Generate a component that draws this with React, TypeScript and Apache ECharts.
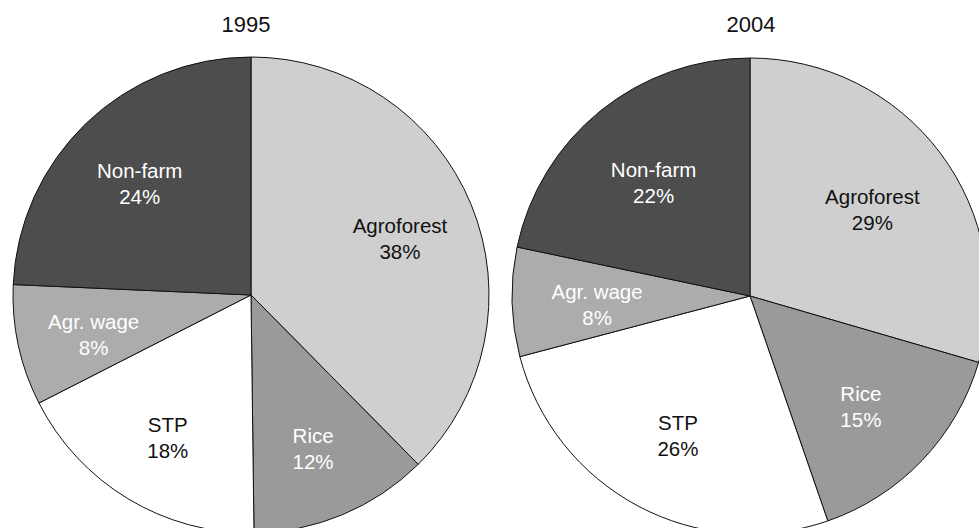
import React, { useEffect, useRef } from "react";
import * as echarts from "echarts";

const categories = ["Agroforest", "Rice", "STP", "Agr. wage", "Non-farm"];
// slice shares as read from the drawn wedges
const values1995 = [37.6, 12.2, 17.7, 8.2, 24.3];
const values2004 = [29.5, 15.2, 26.2, 7.4, 21.7];
// percentages printed on the wedges
const pct1995 = [38, 12, 18, 8, 24];
const pct2004 = [29, 15, 26, 8, 22];
const titles = ["1995", "2004"];

const sliceColors = ["#cfcfcf", "#9a9a9a", "#ffffff", "#acacac", "#4d4d4d"];
const labelColors = ["#111111", "#ffffff", "#111111", "#ffffff", "#ffffff"];

const FONT = "'Liberation Sans', Arial, Helvetica, sans-serif";

function buildData(vals: number[], pcts: number[]) {
  return categories.map((name, i) => ({
    name,
    value: vals[i],
    pct: pcts[i],
    itemStyle: { color: sliceColors[i] },
    label: { color: labelColors[i] },
  }));
}

export default function App() {
  const ref = useRef<HTMLDivElement>(null);
  useEffect(() => {
    if (!ref.current) return;
    const chart = echarts.init(ref.current, null, { renderer: "svg" });
    const centers = [
      [251, 295],
      [750, 296],
    ];
    const titleX = [246, 751];
    const labelR = [158, 150];
    const series: any[] = [];
    [
      [values1995, pct1995],
      [values2004, pct2004],
    ].forEach(([vals, pcts], k) => {
      series.push({
        type: "pie",
        center: centers[k],
        radius: [0, 238],
        startAngle: 90,
        clockwise: true,
        silent: true,
        data: buildData(vals, pcts),
        itemStyle: { borderColor: "#111", borderWidth: 1 },
        label: { show: false },
        labelLine: { show: false },
        emphasis: { disabled: true },
      });
      series.push({
        type: "pie",
        center: centers[k],
        radius: [labelR[k] - 60, labelR[k] + 60],
        startAngle: 90,
        clockwise: true,
        silent: true,
        z: 5,
        data: buildData(vals, pcts).map((d) => ({
          ...d,
          itemStyle: { color: "rgba(0,0,0,0)", borderWidth: 0 },
        })),
        label: {
          show: true,
          position: "inside",
          formatter: (p: any) => `${p.name}\n${p.data.pct}%`,
          fontSize: 20.5,
          lineHeight: 26,
          fontFamily: FONT,
          align: "center",
          offset: [0, 5],
        },
        labelLine: { show: false },
        emphasis: { disabled: true },
      });
    });
    chart.setOption({
      animation: false,
      backgroundColor: "#ffffff",
      graphic: titles.map((t, k) => ({
        type: "text",
        x: titleX[k],
        y: 24,
        style: {
          text: t,
          fontSize: 22,
          fontFamily: FONT,
          fill: "#111",
          textAlign: "center",
          textVerticalAlign: "middle",
        },
      })),
      series,
    });
    return () => chart.dispose();
  }, []);
  return (
    <div
      ref={ref}
      style={{ position: "fixed", left: 0, top: 0, width: 979, height: 528 }}
    />
  );
}
